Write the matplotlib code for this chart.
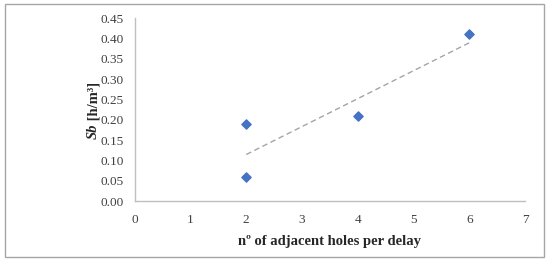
import matplotlib.pyplot as plt
import numpy as np
from matplotlib.patches import Rectangle

# data
holes = [2, 2, 4, 6]
sb = [0.19, 0.06, 0.21, 0.41]
x_ticks = list(range(0, 8))
y_ticks = [0.00, 0.05, 0.10, 0.15, 0.20, 0.25, 0.30, 0.35, 0.40, 0.45]

plt.rcParams.update({"font.family": "Liberation Serif", "font.size": 9.5})

fig = plt.figure(figsize=(5.5, 2.65), dpi=100)
ax = fig.add_axes([0.245, 0.241, 0.7095, 0.691])

# linear trend line over the data range
slope, intercept = np.polyfit(holes, sb, 1)
xs = np.array([min(holes), max(holes)])
ax.plot(xs, slope * xs + intercept, color="#A5A5A5", lw=1, linestyle=(0, (4, 2.5)), zorder=2)

ax.scatter(holes, sb, marker="D", s=22, color="#4472C4", edgecolors="#4472C4", zorder=3)

ax.set_xlim(0, 7)
ax.set_ylim(0, 0.45)
ax.set_xticks(x_ticks)
ax.set_yticks(y_ticks)
ax.set_yticklabels([f"{v:.2f}" for v in y_ticks])
ax.tick_params(length=0, pad=8, colors="#404040")
ax.tick_params(axis="x", pad=9)

for side in ("top", "right"):
    ax.spines[side].set_visible(False)
for side in ("left", "bottom"):
    ax.spines[side].set_color("#BFBFBF")
    ax.spines[side].set_linewidth(1)

ax.set_xlabel("nº of adjacent holes per delay", fontsize=10.5, fontweight="bold",
              labelpad=7, color="#262626")

# y label: italic bold "Sb" followed by bold unit
sb_txt = fig.text(0.17, 0.475, "Sb", rotation=90, fontsize=10.5, fontweight="bold",
                  style="italic", ha="center", va="bottom", color="#262626")
ax.annotate(" [h/m³]", xy=(0.5, 1.0), xycoords=sb_txt, rotation=90, fontsize=10.5,
            fontweight="bold", ha="center", va="bottom", color="#262626",
            annotation_clip=False)

fig.add_artist(Rectangle((0.009, 0.03), 0.98, 0.955, transform=fig.transFigure,
                         fill=False, edgecolor="#A6A6A6", lw=1))

fig.savefig("out.png", dpi=100)
